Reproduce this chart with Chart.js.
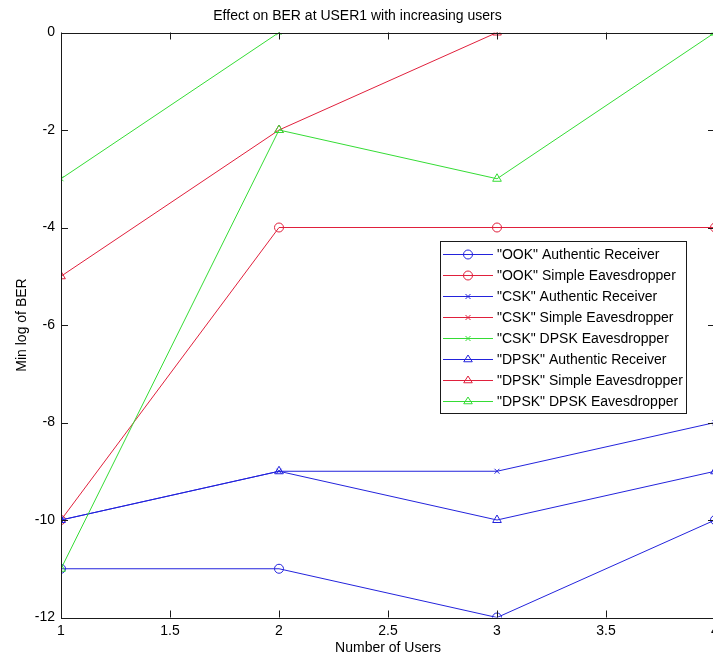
<!DOCTYPE html>
<html>
<head>
<meta charset="utf-8">
<script src="https://cdn.jsdelivr.net/npm/chart.js@4"></script>
<style>
  html, body { margin: 0; padding: 0; background: #fff; }
  #wrap { width: 713px; height: 658px; overflow: hidden; position: relative; }
  canvas { display: block; }
</style>
</head>
<body>
<div id="wrap"><canvas id="berChart" width="740" height="658"></canvas></div>
<script>
const users = [1, 2, 3, 4];
const xTickValues = [1, 1.5, 2, 2.5, 3, 3.5, 4];
const yTickValues = [-12, -10, -8, -6, -4, -2, 0];

const ookAuthentic = [-11, -11, -12, -10];
const ookSimple = [-10, -4, -4, -4];
const cskAuthentic = [-10, -9, -9, -8];
const cskSimple = [null, null, null, null];
const cskDpsk = [-3, 0, null, null];
const dpskAuthentic = [-10, -9, -10, -9];
const dpskSimple = [-5, -2, 0, null];
const dpskDpsk = [-11, -2, -3, 0];

const BLUE = "#2323dc";
const RED = "#e0203c";
const GREEN = "#35dc35";
const FONT = "'Liberation Sans', Arial, sans-serif";

function series(label, values, color, marker) {
    return {
        label: label,
        data: values.map((v, i) => ({ x: users[i], y: v })),
        lineColor: color,
        borderColor: color,
        backgroundColor: "rgba(0,0,0,0)",
        borderWidth: 1,
        pointStyle: marker,
        pointRadius: marker === "crossRot" ? 3.5 : (marker === "triangle" ? 5 : 4.5),
        pointBorderWidth: 1,
        pointBorderColor: color,
        pointBackgroundColor: "rgba(0,0,0,0)",
        fill: false,
        spanGaps: false,
        tension: 0,
    };
}

const datasets = [
    series('"OOK" Authentic Receiver', ookAuthentic, BLUE, "circle"),
    series('"OOK" Simple Eavesdropper', ookSimple, RED, "circle"),
    series('"CSK" Authentic Receiver', cskAuthentic, BLUE, "crossRot"),
    series('"CSK" Simple Eavesdropper', cskSimple, RED, "crossRot"),
    series('"CSK" DPSK Eavesdropper', cskDpsk, GREEN, "crossRot"),
    series('"DPSK" Authentic Receiver', dpskAuthentic, BLUE, "triangle"),
    series('"DPSK" Simple Eavesdropper', dpskSimple, RED, "triangle"),
    series('"DPSK" DPSK Eavesdropper', dpskDpsk, GREEN, "triangle"),
];
// later series sit on top, like the original plot
datasets.forEach((d, i) => { d.order = datasets.length - i; });

function drawMarker(ctx, style, x, y, r, color) {
    ctx.save();
    ctx.strokeStyle = color;
    ctx.lineWidth = 1;
    ctx.beginPath();
    if (style === "circle") {
        ctx.arc(x, y, r, 0, Math.PI * 2);
    } else if (style === "triangle") {
        const h = r * 1.5;
        ctx.moveTo(x, y - h * 2 / 3);
        ctx.lineTo(x + r * 0.95, y + h / 3);
        ctx.lineTo(x - r * 0.95, y + h / 3);
        ctx.closePath();
    } else {
        ctx.moveTo(x - r, y - r);
        ctx.lineTo(x + r, y + r);
        ctx.moveTo(x + r, y - r);
        ctx.lineTo(x - r, y + r);
    }
    ctx.stroke();
    ctx.restore();
}

const boxPlugin = {
    id: "matlabBox",
    afterDatasetsDraw(chart) {
        const { ctx, chartArea: a, scales } = chart;
        const tl = 7;
        ctx.save();
        ctx.strokeStyle = "#1a1a1a";
        ctx.lineWidth = 1;
        ctx.beginPath();
        scales.x.ticks.forEach((t) => {
            const px = Math.round(scales.x.getPixelForValue(t.value)) + 0.5;
            ctx.moveTo(px, a.bottom);
            ctx.lineTo(px, a.bottom - tl);
            ctx.moveTo(px, a.top);
            ctx.lineTo(px, a.top + tl);
        });
        scales.y.ticks.forEach((t) => {
            const py = Math.round(scales.y.getPixelForValue(t.value)) + 0.5;
            ctx.moveTo(a.left, py);
            ctx.lineTo(a.left + tl, py);
            ctx.moveTo(a.right, py);
            ctx.lineTo(a.right - tl, py);
        });
        ctx.stroke();
        ctx.strokeRect(Math.round(a.left) + 0.5, Math.round(a.top) + 0.5,
            Math.round(a.right - a.left), Math.round(a.bottom - a.top));
        ctx.restore();
    },
    afterDraw(chart) {
        // legend box inside the axes, top-right area
        const { ctx } = chart;
        const lx = 440, ly = 241, lw = 246, lh = 172;
        const rowH = 21;
        ctx.save();
        ctx.fillStyle = "#fff";
        ctx.fillRect(lx, ly, lw, lh);
        ctx.lineWidth = 1;
        ctx.strokeStyle = "#1a1a1a";
        ctx.strokeRect(lx + 0.5, ly + 0.5, lw, lh);
        ctx.font = "14px " + FONT;
        ctx.textBaseline = "middle";
        ctx.textAlign = "left";
        datasets.forEach((d, i) => {
            const y = Math.round(ly + 13 + i * rowH) + 0.5;
            ctx.save();
            ctx.strokeStyle = d.lineColor;
            ctx.lineWidth = 1;
            ctx.beginPath();
            ctx.moveTo(443, y);
            ctx.lineTo(493, y);
            ctx.stroke();
            ctx.restore();
            drawMarker(ctx, d.pointStyle, 468, y, d.pointStyle === "crossRot" ? 2.5 : 4.5, d.lineColor);
            ctx.fillStyle = "#000";
            ctx.fillText(d.label, 497, y + 1);
        });
        ctx.restore();
    },
};

const ctx = document.getElementById("berChart").getContext("2d");
new Chart(ctx, {
    type: "line",
    data: { datasets: datasets },
    options: {
        responsive: false,
        animation: false,
        devicePixelRatio: 1,
        layout: { padding: { left: 0, right: 25, top: 0, bottom: 0 } },
        scales: {
            x: {
                type: "linear",
                min: 1,
                max: 4,
                afterBuildTicks: (scale) => { scale.ticks = xTickValues.map((v) => ({ value: v })); },
                afterFit: (scale) => { scale.height = 40.5; },
                grid: { display: false, drawTicks: false },
                border: { display: false },
                ticks: {
                    color: "#000",
                    padding: 5,
                    font: { family: FONT, size: 14 },
                    maxRotation: 0,
                    autoSkip: false,
                    callback: (value) => String(value),
                },
                title: {
                    display: true,
                    text: "Number of Users",
                    color: "#000",
                    font: { family: FONT, size: 14 },
                    padding: { top: 0, bottom: 1.6 },
                },
            },
            y: {
                type: "linear",
                min: -12,
                max: 0,
                afterBuildTicks: (scale) => { scale.ticks = yTickValues.map((v) => ({ value: v })); },
                afterFit: (scale) => { scale.width = 61; },
                grid: { display: false, drawTicks: false },
                border: { display: false },
                ticks: {
                    color: "#000",
                    padding: 6,
                    font: { family: FONT, size: 14 },
                    autoSkip: false,
                    callback: (value) => String(value),
                },
                title: {
                    display: true,
                    text: "Min log of BER",
                    color: "#000",
                    font: { family: FONT, size: 14 },
                    padding: { top: 13.6, bottom: 0 },
                },
            },
        },
        plugins: {
            legend: { display: false },
            tooltip: { enabled: false },
            title: {
                display: true,
                text: "Effect on BER at USER1 with increasing users",
                color: "#000",
                font: { family: FONT, size: 14, weight: "normal" },
                padding: { top: 7.4, bottom: 8.3 },
            },
        },
    },
    plugins: [boxPlugin],
});
</script>
</body>
</html>
